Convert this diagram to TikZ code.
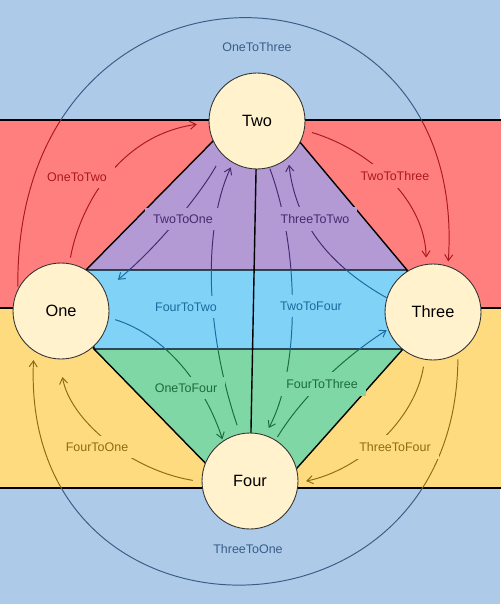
\documentclass[tikz,border=0pt]{standalone}
\usepackage{fontspec}
\setmainfont{Liberation Sans}
\usetikzlibrary{arrows.meta}

\definecolor{bandblue}{HTML}{ADCBE9}
\definecolor{bandred}{HTML}{FF7F7F}
\definecolor{bandyellow}{HTML}{FFDB80}
\definecolor{bandpurple}{HTML}{B39AD5}
\definecolor{bandcyan}{HTML}{80D3F7}
\definecolor{bandgreen}{HTML}{80D7A6}
\definecolor{darkblue}{HTML}{3A5D88}
\definecolor{darkred}{HTML}{AA1820}
\definecolor{darkyellow}{HTML}{8F6C12}
\definecolor{darkpurple}{HTML}{452A6E}
\definecolor{darkcyan}{HTML}{1A6B9E}
\definecolor{darkgreen}{HTML}{1C6B3C}
\definecolor{stateFill}{HTML}{FFF2CC}

\tikzstyle{stateNode}=[draw=black!80, line width=0.5pt, fill=stateFill, circle, minimum size=1.92cm, inner sep=0pt, font=\fontsize{9.3}{11}\selectfont]
\tikzstyle{transition}=[line width=0.55pt, -{Straight Barb[length=3.4pt,width=4.6pt]}]
\tikzstyle{regionLine}=[line width=0.8pt]
\tikzset{endGaps/.style 2 args={shorten <=#1, shorten >=#2},
	edgeLabel/.style={fill=band#1, text=dark#1, inner xsep=4.5pt, inner ysep=4pt, font=\fontsize{7.1}{8.5}\selectfont}}

% the coloured regions
\def\topRegion{(-5,-5) rectangle (505,120)}
\def\redRegion{(-5,120) -- (505,120) -- (505,308) -- (qR) -- (pMR) -- (pTR) -- (pTL) -- (pML) -- (qL) -- (-5,308) -- cycle}
\def\purpleRegion{(pML) -- (pTL) -- (pTR) -- (pMR) -- cycle}
\def\cyanRegion{(pML) -- (pMR) -- (pBR) -- (pBL) -- cycle}
\def\greenRegion{(pBL) -- (pBR) -- (pFR) -- (pFL) -- cycle}
\def\yellowRegion{(-5,308) -- (qL) -- (pBL) -- (pFL) -- (pFR) -- (pBR) -- (qR) -- (505,308) -- (505,488) -- (-5,488) -- cycle}
\def\bottomRegion{(-5,488) rectangle (505,610)}

\newcommand\drawTransitions{%
	\draw[transition, endGaps={3.3pt}{6.8pt}] (One.80) .. controls (80,205) and (120,135) .. (Two.182);
	\draw[transition, endGaps={7.3pt}{9.6pt}] (Two.224) .. controls (203,190) and (160,245) .. (One.25);
	\draw[transition, endGaps={5.1pt}{2.8pt}] (Four.102) .. controls (205,330) and (203,228) .. (Two.240);
	\draw[transition, endGaps={0.6pt}{4.5pt}] (Two.285) .. controls (300,250) and (300,370) .. (Four.72);
	\draw[transition, endGaps={3.7pt}{0.9pt}] (One.352) .. controls (165,335) and (205,385) .. (Four.124);
	\draw[transition, endGaps={2pt}{0.8pt}] (Four.58) .. controls (300,400) and (340,360) .. (Three.201);
	\draw[transition, endGaps={0pt}{3.8pt}] (Three.163) .. controls (320,260) and (295,215) .. (Two.310);
	\draw[transition, endGaps={4.5pt}{3.7pt}] (Two.349) .. controls (370,150) and (425,200) .. (Three.98);
	\draw[transition, endGaps={4pt}{4.5pt}] (Three.260) .. controls (415,420) and (360,470) .. (Four.358);
	\draw[transition, endGaps={5.1pt}{10.2pt}] (Four.181) .. controls (130,470) and (70,420) .. (One.268);
	\draw[transition, endGaps={1.4pt}{2.6pt}] (One.153) .. controls (15,-70) and (470,-65) .. (Three.72);
	\draw[transition, endGaps={3.4pt}{5.1pt}] (Three.301) .. controls (455,660) and (20,660) .. (One.236);
}
\newcommand\regionEdges[2]{\begin{scope}[#1]\clip #2; \drawTransitions\end{scope}}

\begin{document}
\begin{tikzpicture}[x=0.02cm, y=-0.02cm]
	\useasboundingbox (0,0) rectangle (500,604);

	\coordinate (pTL) at (222,132);
	\coordinate (pTR) at (294,135);
	\coordinate (pML) at (86,270);
	\coordinate (pMR) at (407,270);
	\coordinate (qL) at (88,308);
	\coordinate (qR) at (405,308);
	\coordinate (pBL) at (94,349);
	\coordinate (pBR) at (403,349);
	\coordinate (pFL) at (215,473);
	\coordinate (pFR) at (289,477);

	\fill[bandblue] (0,0) rectangle (500,604);
	\fill[bandred] \redRegion;
	\fill[bandyellow] \yellowRegion;
	\fill[bandpurple] \purpleRegion;
	\fill[bandcyan] \cyanRegion;
	\fill[bandgreen] \greenRegion;

	\draw[regionLine] (-5,120) -- (505,120) (-5,488) -- (505,488) (-5,308) -- (qL) (qR) -- (505,308);
	\draw[regionLine] \purpleRegion \cyanRegion \greenRegion;

	\node[stateNode] (One) at (61,311) {One};
	\node[stateNode] (Two) at (257,121) {Two};
	\node[stateNode] (Three) at (433,312) {Three};
	\node[stateNode] (Four) at (250,481) {Four};

	\draw[regionLine] (Two) -- (Four);

	\regionEdges{darkblue}{\topRegion}
	\regionEdges{darkred}{\redRegion}
	\regionEdges{darkpurple}{\purpleRegion}
	\regionEdges{darkcyan}{\cyanRegion}
	\regionEdges{darkgreen}{\greenRegion}
	\regionEdges{darkyellow}{\yellowRegion}
	\regionEdges{darkblue}{\bottomRegion}

	\node[edgeLabel=blue] (lOneToThree) at (257,47) {OneToThree};
	\node[edgeLabel=red] (lOneToTwo) at (77,177) {OneToTwo};
	\node[edgeLabel=red] (lTwoToThree) at (395,176) {TwoToThree};
	\node[edgeLabel=purple] (lTwoToOne) at (183,219) {TwoToOne};
	\node[edgeLabel=purple] (lThreeToTwo) at (315,219) {ThreeToTwo};
	\node[edgeLabel=cyan] (lFourToTwo) at (186,307) {FourToTwo};
	\node[edgeLabel=cyan] (lTwoToFour) at (311,306) {TwoToFour};
	\node[edgeLabel=green] (lOneToFour) at (186,388) {OneToFour};
	\node[edgeLabel=green] (lFourToThree) at (322,384) {FourToThree};
	\node[edgeLabel=yellow] (lFourToOne) at (97,447) {FourToOne};
	\node[edgeLabel=yellow] (lThreeToFour) at (395,447) {ThreeToFour};
	\node[edgeLabel=blue] (lThreeToOne) at (248,549) {ThreeToOne};
\end{tikzpicture}
\end{document}
